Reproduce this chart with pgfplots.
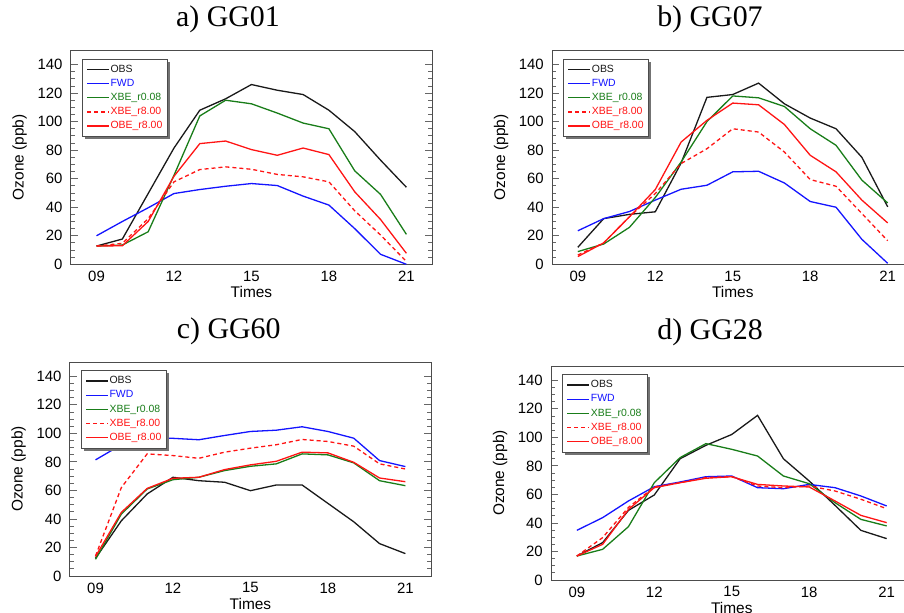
\documentclass[border=0pt]{standalone}
\usepackage{pgfplots}
\pgfplotsset{compat=1.18}
\usepackage{fontspec}
\setmainfont{Liberation Sans}
\newfontfamily\titlefont{Liberation Serif}
\definecolor{cobs}{RGB}{25,25,25}
\definecolor{cfwd}{RGB}{20,20,255}
\definecolor{cxg}{RGB}{25,125,25}
\definecolor{cred}{RGB}{255,20,20}
\pgfplotsset{
 ozone/.style={
  scale only axis, width=361.5bp, height=214bp,
  xmin=8, xmax=22, ymin=0, ymax=150,
  xtick={9,12,15,18,21}, xticklabels={09,12,15,18,21},
  ytick={0,20,...,140}, minor y tick num=3,
  tick align=inside, ytick pos=both,
  major tick length=7bp, minor tick length=4bp,
  every tick/.style={draw=black!60, line width=0.8bp},
  xtick style={draw=none},
  axis line style={draw=black!70, line width=0.9bp},
  tick label style={font=\fontsize{15}{18}\selectfont, inner sep=0pt},
  /pgf/number format/assume math mode=true,
  yticklabel style={anchor=east, xshift=-8bp},
  xticklabel style={anchor=north, yshift=-6.5bp},
  label style={font=\fontsize{15.5}{18}\selectfont},
  xlabel=Times, ylabel={Ozone (ppb)},
  xlabel style={at={(axis description cs:0.5,-0.156)}, anchor=base},
  ylabel style={at={(axis description cs:-0.141,0.5)}, anchor=center},
  title style={font=\titlefont\fontsize{30}{34}\selectfont, anchor=base},
  legend cell align=left,
  legend style={at={(axis description cs:0.032,0.959)}, anchor=north west,
    font=\fontsize{10.5}{12}\selectfont, draw=none,
    fill=white, inner xsep=4bp, inner ysep=4.5bp, row sep=3.1bp,
    nodes={inner sep=0.8bp, text height=7.5bp, text depth=2bp},
    /tikz/every even column/.style={column sep=2bp}},
  legend image code/.code={\draw[line width=1.3bp, ##1] (0bp,0bp) -- (22bp,0bp);},
  every axis plot/.append style={line width=1.3bp},
 },
 obs/.style={color=cobs, solid},
 fwd/.style={color=cfwd, solid},
 xg/.style={color=cxg, solid},
 xr/.style={color=cred, dash pattern=on 4bp off 3bp},
 ob/.style={color=cred, solid},
}
\newcommand{\legs}{%
  \addlegendentry[text=cobs]{OBS}%
  \addlegendentry[text=cfwd]{FWD}%
  \addlegendentry[text=cxg]{XBE\_r0.08}%
  \addlegendentry[text=cred]{XBE\_r8.00}%
  \addlegendentry[text=cred]{OBE\_r8.00}}
\newcommand{\legshadow}[1]{%
  \fill[black!55] ([shift={(0.4bp,-2.5bp)}]#1.north east) rectangle ([shift={(2.8bp,-2.8bp)}]#1.south east);
  \fill[black!55] ([shift={(2.5bp,-0.4bp)}]#1.south west) rectangle ([shift={(2.8bp,-2.8bp)}]#1.south east);
  \draw[black!70, line width=0.8bp] (#1.south west) rectangle (#1.north east);}
\begin{document}
\begin{tikzpicture}
\path[use as bounding box] (0bp,0bp) rectangle (904bp,613bp);
\clip (0bp,0bp) rectangle (904bp,613bp);
% a) GG01
\begin{axis}[ozone, at={(70.7bp,348.7bp)}, anchor=south west, legend style={name=lega},
  title={a) GG01}, title style={at={(axis description cs:0.435,1.082)}}]
\addplot[obs] coordinates {(9,12.8)(10,17.7)(11,49.6)(12,81.5)(13,108)(14,116)(15,126)(16,122)(17,119)(18,108)(19,93)(20,73)(21,54)};
\addplot[fwd] coordinates {(9,20)(10,30)(11,39.6)(12,49.6)(13,52.4)(14,54.7)(15,56.6)(16,55.2)(17,47.8)(18,41.5)(19,25)(20,7)(21,0)};
\addplot[xg] coordinates {(9,12.8)(10,13.5)(11,22.8)(12,62.4)(13,104)(14,115)(15,112.5)(16,106)(17,99)(18,95)(19,65.5)(20,49)(21,21)};
\addplot[xr] coordinates {(9,12.8)(10,14.7)(11,32)(12,57.8)(13,66.4)(14,68.3)(15,66.6)(16,63)(17,61.3)(18,57.8)(19,37.5)(20,20.5)(21,2)};
\addplot[ob] coordinates {(9,12.8)(10,13)(11,30)(12,61.7)(13,84.6)(14,86.4)(15,80.4)(16,76.4)(17,81.5)(18,76.9)(19,50.8)(20,31.4)(21,7.7)};
\legs
\end{axis}
\legshadow{lega}
% b) GG07
\begin{axis}[ozone, at={(552bp,348.7bp)}, anchor=south west, legend style={name=legb},
  title={b) GG07}, title style={at={(axis description cs:0.437,1.082)}}]
\addplot[obs] coordinates {(9,11.9)(10,32)(11,35)(12,36.8)(13,71)(14,117)(15,119)(16,127)(17,112.5)(18,102.5)(19,95)(20,75)(21,40.3)};
\addplot[fwd] coordinates {(9,23.5)(10,32)(11,37)(12,45)(13,52.6)(14,55.4)(15,64.8)(16,65.2)(17,57)(18,44)(19,40)(20,17.5)(21,0.7)};
\addplot[xg] coordinates {(9,8.9)(10,14.2)(11,25.9)(12,46.8)(13,71.7)(14,100)(15,118)(16,116.7)(17,110.6)(18,95)(19,83.4)(20,59)(21,43)};
\addplot[xr] coordinates {(9,6.5)(10,15)(11,33.3)(12,49.6)(13,70.6)(14,81)(15,95)(16,92.7)(17,78.7)(18,59.4)(19,54.7)(20,35.6)(21,16.5)};
\addplot[ob] coordinates {(9,5.4)(10,15)(11,33.3)(12,52.4)(13,85.7)(14,100.9)(15,113)(16,111.8)(17,98)(18,76.4)(19,64.8)(20,45)(21,29)};
\legs
\end{axis}
\legshadow{legb}
% c) GG60
\begin{axis}[ozone, at={(69.7bp,37bp)}, anchor=south west, legend style={name=legc},
  title={c) GG60}, title style={at={(axis description cs:0.44,1.0816)}}]
\addplot[obs] coordinates {(9,12.4)(10,38.7)(11,57.5)(12,69.2)(13,66.8)(14,65.7)(15,59.8)(16,63.8)(17,63.8)(18,50.9)(19,38)(20,22.7)(21,15.7)};
\addplot[fwd] coordinates {(9,81.4)(10,92)(11,97)(12,96.5)(13,95.5)(14,98.5)(15,101.3)(16,102.2)(17,104.6)(18,101.3)(19,96.6)(20,80.9)(21,76.7)};
\addplot[xg] coordinates {(9,11.7)(10,43.4)(11,61)(12,67.5)(13,69.2)(14,73.9)(15,76.9)(16,78.6)(17,85.6)(18,84.9)(19,79.3)(20,66.8)(21,63.3)};
\addplot[xr] coordinates {(9,14)(10,62)(11,85.6)(12,84.4)(13,82.5)(14,86.8)(15,89.6)(16,92)(17,95.7)(18,94.3)(19,91)(20,78.6)(21,75)};
\addplot[ob] coordinates {(9,13.6)(10,44.6)(11,61.4)(12,68.5)(13,69.2)(14,74.6)(15,77.9)(16,80.4)(17,86.8)(18,86.3)(19,79.7)(20,68.7)(21,66.1)};
\legs
\end{axis}
\legshadow{legc}
% d) GG28
\begin{axis}[ozone, at={(551bp,33bp)}, anchor=south west, legend style={name=legd},
  title={d) GG28}, title style={at={(axis description cs:0.44,1.098)}}]
\addplot[obs] coordinates {(9,16.8)(10,26.2)(11,48.8)(12,59.6)(13,85)(14,94.4)(15,102)(16,115.4)(17,85)(18,69.4)(19,52.3)(20,34.8)(21,29)};
\addplot[fwd] coordinates {(9,34.8)(10,43.7)(11,55.4)(12,65.4)(13,68.7)(14,72.4)(15,72.9)(16,64.7)(17,64)(18,67)(19,64.7)(20,58.9)(21,51.9)};
\addplot[xg] coordinates {(9,16.8)(10,21.5)(11,37.4)(12,68.2)(13,85.8)(14,95.6)(15,91.6)(16,86.9)(17,72.9)(18,67.5)(19,54.2)(20,42.5)(21,37.9)};
\addplot[xr] coordinates {(9,16.8)(10,29.7)(11,50.9)(12,65.2)(13,68.2)(14,71.8)(15,72.4)(16,65.9)(17,64.7)(18,65.9)(19,62.4)(20,56.6)(21,50)};
\addplot[ob] coordinates {(9,16.8)(10,25)(11,49.5)(12,64.7)(13,68.2)(14,71.3)(15,72.4)(16,67)(17,65.9)(18,65.2)(19,55.4)(20,45.3)(21,40.2)};
\legs
\end{axis}
\legshadow{legd}
\end{tikzpicture}
\end{document}
